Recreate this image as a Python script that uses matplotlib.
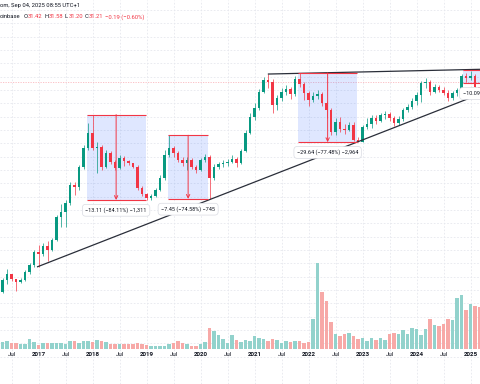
import matplotlib
matplotlib.use("Agg")
import matplotlib.pyplot as plt
from matplotlib.patches import Rectangle
from matplotlib.transforms import IdentityTransform
import numpy as np

plt.rcParams['font.family'] = ['Roboto', 'DejaVu Sans']

# monthly candles from May 2016 to Mar 2025, month index 0 = Jan 2017
first_month = -8
opens = [0.344, 0.443, 0.504, 0.453, 0.424, 0.448, 0.530, 0.613,
         0.816, 0.771, 0.922, 0.846, 1.049, 1.73, 1.93, 2.33, 3.43, 3.29, 5.05, 7.59,
         10.5, 7.59, 7.76, 5.05, 6.83, 5.62, 4.94, 6.13, 5.74, 5.50, 5.05, 3.22,
         2.82, 2.59, 2.70, 3.08, 3.98, 6.54, 7.59, 6.83, 5.87, 5.50, 5.87, 5.05,
         4.73, 5.87, 6.26, 3.98, 5.05, 5.38, 5.50, 5.66, 6.00, 5.53, 7.17, 10.5,
         14.9, 18.0, 25.5, 32.8, 31.4, 19.2, 22.2, 25.3, 27.0, 24.2, 33.5, 30.0,
         24.8, 21.3, 23.2, 24.2, 20.0, 17.2, 10.8, 13.3, 11.4, 11.2, 12.5, 9.02,
         8.70, 11.9, 12.7, 14.5, 13.6, 15.5, 15.8, 14.5, 13.0, 14.2, 17.2, 18.5,
         20.9, 23.8, 30.7, 31.4, 25.5, 28.2, 26.4, 24.9, 22.2, 24.8, 26.4, 35.8,
         34.3, 36.0, 28.5]
highs = [0.463, 0.562, 0.504, 0.453, 0.463, 0.550, 0.640, 0.846,
         0.942, 0.984, 1.027, 1.095, 1.79, 2.28, 2.48, 3.66, 3.66, 5.27, 8.10, 13.0,
         15.59, 8.64, 8.10, 7.27, 7.13, 5.87, 6.54, 6.40, 5.87, 5.50, 5.27, 3.36,
         2.88, 2.82, 3.22, 4.24, 7.27, 9.99, 7.92, 7.13, 6.26, 6.26, 6.13, 5.27,
         6.13, 6.68, 6.54, 5.38, 5.62, 5.87, 6.00, 6.54, 6.26, 7.43, 11.2, 16.2,
         20.0, 27.0, 35.0, 37.3, 33.5, 23.8, 27.6, 29.4, 28.2, 35.8, 38.25, 31.4,
         25.9, 25.3, 26.4, 25.3, 20.9, 18.0, 14.5, 14.8, 12.7, 13.3, 13.3, 9.62,
         12.5, 14.5, 15.5, 15.5, 16.2, 16.8, 16.5, 15.2, 15.2, 18.0, 19.6, 22.2,
         25.3, 32.1, 34.3, 32.8, 30.0, 29.4, 28.2, 26.4, 25.9, 27.6, 37.3, 38.2,
         39.8, 37.3, 30.7]
lows = [0.335, 0.406, 0.433, 0.350, 0.415, 0.433, 0.504, 0.587,
        0.591, 0.743, 0.668, 0.828, 1.027, 1.39, 1.40, 2.23, 2.76, 3.08, 4.83, 7.27,
        7.27, 4.43, 4.73, 4.94, 5.38, 4.73, 4.83, 5.16, 5.27, 4.94, 3.08, 2.70,
        2.48, 2.50, 2.65, 3.01, 3.81, 6.30, 6.26, 5.62, 5.16, 4.73, 4.83, 4.43,
        4.63, 5.62, 2.54, 3.81, 4.83, 5.05, 5.16, 5.50, 5.05, 5.38, 6.97, 10.3,
        13.9, 17.2, 24.8, 27.6, 16.2, 17.2, 20.9, 23.8, 21.8, 23.3, 28.2, 21.3,
        18.7, 20.4, 21.8, 18.7, 14.5, 10.0, 10.0, 10.7, 10.3, 11.0, 8.9, 8.61,
        8.65, 11.4, 11.7, 12.7, 13.3, 14.2, 13.6, 12.3, 12.5, 13.6, 16.5, 17.6,
        19.2, 20.4, 27.6, 23.8, 24.8, 25.3, 23.8, 20.9, 21.3, 23.3, 24.2, 31.4,
        32.8, 26.4, 24.2]
closes = [0.443, 0.504, 0.453, 0.424, 0.448, 0.530, 0.613, 0.816,
          0.771, 0.922, 0.846, 1.049, 1.73, 1.93, 2.33, 3.43, 3.29, 5.05, 7.59, 10.5,
          7.59, 7.76, 5.05, 6.83, 5.62, 4.94, 6.13, 5.74, 5.50, 5.05, 3.22, 2.82,
          2.59, 2.70, 3.08, 3.98, 6.54, 7.59, 6.83, 5.87, 5.50, 5.87, 5.05, 4.73,
          5.87, 6.26, 3.98, 5.05, 5.38, 5.50, 5.66, 6.00, 5.53, 7.17, 10.5, 14.9,
          18.0, 25.5, 32.8, 31.4, 19.2, 22.2, 25.3, 27.0, 24.2, 33.5, 30.0, 24.8,
          21.3, 23.2, 24.2, 20.0, 17.2, 10.8, 13.3, 11.4, 11.2, 12.5, 9.02, 8.70,
          11.9, 12.7, 14.5, 13.6, 15.5, 15.8, 14.5, 13.0, 14.2, 17.2, 18.5, 20.9,
          23.8, 30.7, 31.4, 25.5, 28.2, 26.4, 24.9, 22.2, 24.8, 26.4, 35.8, 34.3,
          36.0, 28.5, 26.4]
volumes = [6.3, 7.3, 5.7, 5.7, 4.7, 4.7, 9.7, 6.3,
           4, 5.7, 5.7, 5.7, 5.7, 5.7, 5, 7.3, 7.3, 5.7, 7.3, 7.3,
           6.3, 9, 7.3, 6.3, 5, 5, 4.7, 4.7, 5, 5, 5.7, 4.3,
           3.7, 2.3, 3, 3, 2.3, 5, 5.7, 7.3, 5.7, 5, 3, 2.7,
           4.3, 6.7, 20.7, 17.7, 13.3, 10, 5.7, 13.3, 9, 6.7, 8.3, 7.7,
           12.3, 11, 10, 7.3, 10, 8.3, 5.7, 7.3, 6.7, 7.7, 7.7, 6,
           6.3, 30, 86, 56.7, 47.7, 26.7, 14.3, 12.3, 14.3, 16, 12.3, 9.7,
           10.7, 7.7, 10.7, 8.3, 11, 8.3, 15, 15.7, 14.3, 19, 14.3, 20.3,
           19.3, 13.7, 19.3, 29.3, 23.3, 22.7, 25, 30, 29, 51, 54, 39,
           44.3, 43, 41.7]

tick_months = [-6, 0, 6, 12, 18, 24, 30, 36, 42, 48, 54, 60, 66, 72, 78, 84, 90, 96]
tick_labels = ['Jul', '2017', 'Jul', '2018', 'Jul', '2019', 'Jul', '2020', 'Jul',
               '2021', 'Jul', '2022', 'Jul', '2023', 'Jul', '2024', 'Jul', '2025']

# price range tools: start month, end month, top price, bottom price, label
range_start = [10.7, 28.8, 57.7, 94.4]
range_end = [23.8, 37.7, 70.8, 107.6]
range_top = [15.59, 9.99, 38.25, 40.70]
range_bottom = [2.48, 2.54, 8.61, 30.61]
range_labels = ['\u221213.11 (\u221284.11%) \u22121,311',
                '\u22127.45 (\u221274.58%) \u2212745',
                '\u221229.64 (\u221277.48%) \u22122,964',
                '\u221210.09 (\u221224.79%) \u22121,009']

support_months = [-0.2, 98.2]
support_prices = [0.59, 24.3]
resistance_months = [51.1, 98.2]
resistance_prices = [37.3, 41.3]
last_price = 31.21

UP, DOWN = '#089981', '#f23645'
DARK = '#131722'
W, H = 480, 384

fig = plt.figure(figsize=(4.8, 3.84), dpi=100)
ax = fig.add_axes([0, 0, 1, 1])
ax.set_yscale('log')
ax.set_xlim(-8.556, 98.111)
ax.set_ylim(0.0473, 183.5)
for s in ax.spines.values():
    s.set_visible(False)
ax.set_yticks([])
ax.minorticks_off()
ax.set_xticks(tick_months)
ax.tick_params(length=0, labelbottom=False, labelleft=False)
ax.grid(axis='x', color='#e6e8ee', lw=0.6, ls=(0, (2, 2)))
ax.set_axisbelow(True)

# horizontal grid, evenly spaced in pixels like the source
grid_px = np.arange(10, 360, 13.333)
ax.hlines(1 - grid_px / H, 0, 1, transform=ax.transAxes, colors='#e6e8ee',
          lw=0.6, linestyles=(0, (2, 2)), zorder=0)

months = np.arange(first_month, first_month + len(closes))
o = np.array(opens)
c = np.array(closes)
up = c >= o
cols = np.where(up, UP, DOWN)

ax.vlines(months, lows, highs, colors=cols, lw=0.5, zorder=4)
ax.bar(months, np.abs(c - o), bottom=np.minimum(o, c), width=0.62,
       color=cols, lw=0, zorder=5)

# volume pane
vax = fig.add_axes([0, 35.5 / H, 1, 1 - 35.5 / H], zorder=1)
vax.patch.set_alpha(0)
vax.set_xlim(ax.get_xlim())
vax.set_ylim(0, 348.5)
vax.axis('off')
vax.bar(months, volumes, width=0.8, color=np.where(up, '#92d2cc', '#f7a9a7'), lw=0)

# trend lines
ax.plot(support_months, support_prices, color='#2a2e39', lw=0.9, zorder=6)
ax.plot(resistance_months, resistance_prices, color='#2a2e39', lw=0.9, zorder=6)

# last price line
ax.axhline(last_price, color=DOWN, alpha=0.35, lw=0.6, ls=(0, (1.5, 1.5)), zorder=1)

# price range drawings
for m0, m1, top, bot, lab in zip(range_start, range_end, range_top, range_bottom, range_labels):
    ax.add_patch(Rectangle((m0, bot), m1 - m0, top - bot, facecolor='#2962ff',
                           alpha=0.15, lw=0, zorder=3))
    ax.hlines([top, bot], m0, m1, colors=DOWN, lw=0.8, zorder=6)
    mid = (m0 + m1) / 2
    ax.annotate('', xy=(mid, bot), xytext=(mid, top), annotation_clip=False,
                arrowprops=dict(arrowstyle='->', color=DOWN, lw=0.7,
                                mutation_scale=6, shrinkA=0, shrinkB=0), zorder=6)
    ax.annotate(lab, xy=(mid, bot), xytext=(0, -7.4), textcoords='offset points',
                ha='center', va='center', fontsize=3.95, color=DARK,
                annotation_clip=False, zorder=8,
                bbox=dict(boxstyle='round,pad=0.55,rounding_size=0.6', fc='white',
                          ec='#d9dbe2', lw=0.5))

# time axis labels
for m, lab in zip(tick_months, tick_labels):
    ax.text(m, 1 - 355 / H, lab, transform=ax.get_xaxis_transform(), ha='center',
            va='center', fontsize=4.5, color=DARK,
            fontweight='bold' if lab != 'Jul' else 'normal')

# header
fig.text(-0.5, H - 6, 'om, Sep 04, 2025 08:55 UTC+1', transform=IdentityTransform(),
         fontsize=4.2, color=DARK, va='center', ha='left')
renderer = fig.canvas.get_renderer()
pieces = [('oinbase', DARK, 3.2), ('O', DARK, 0.3), ('31.42', DOWN, 1.8),
          ('H', DARK, 0.3), ('31.58', DOWN, 1.8), ('L', DARK, 0.3),
          ('31.20', DOWN, 1.8), ('C', DARK, 0.3), ('31.21', DOWN, 2.0),
          ('\u22120.19 (\u22120.60%)', DOWN, 0)]
x = -0.5
for s, col, gap in pieces:
    t = fig.text(x, H - 17, s, transform=IdentityTransform(), fontsize=4.2,
                 color=col, va='center', ha='left')
    x += t.get_window_extent(renderer).width + gap

fig.savefig('out.png', dpi=100)
